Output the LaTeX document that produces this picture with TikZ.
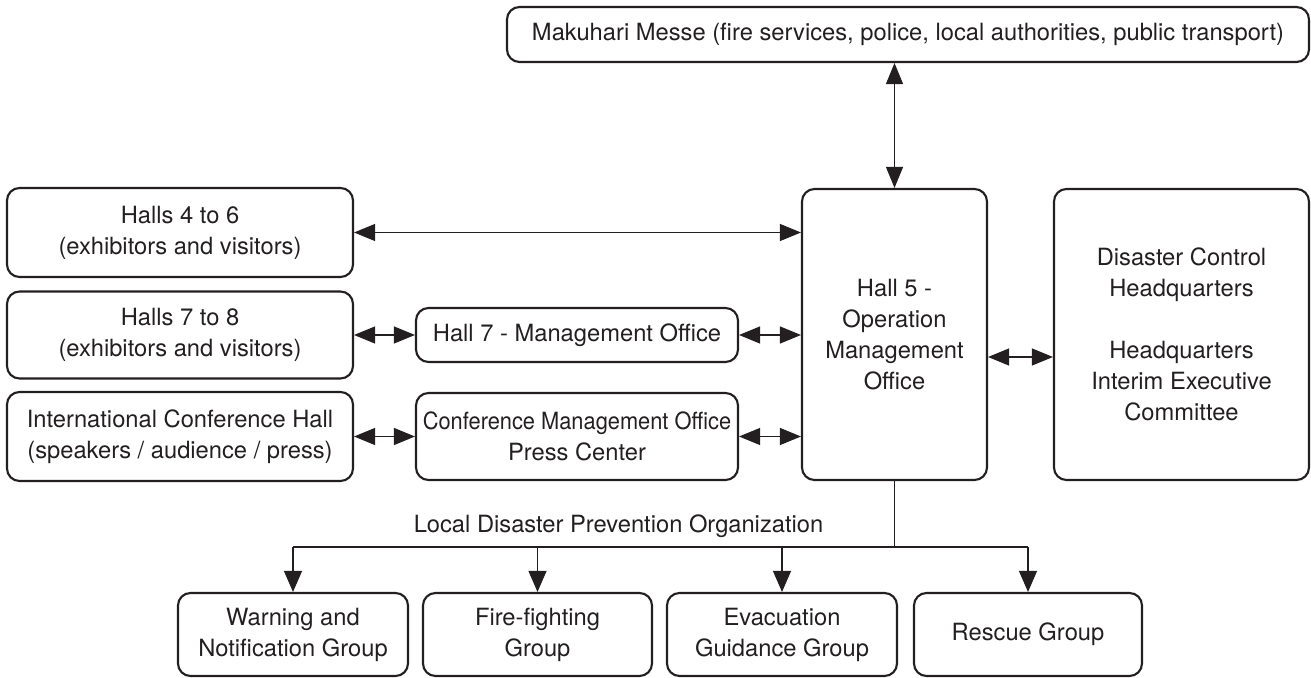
\documentclass[tikz,border=0pt]{standalone}
\usepackage{fontspec}
\setmainfont{TeX Gyre Heros}
\newfontfamily\narrowfont[FakeStretch=0.92]{TeX Gyre Heros}
\usepackage{tikz}
\usetikzlibrary{arrows.meta,positioning,calc}
\definecolor{ink}{RGB}{35,31,32}

\begin{document}
\begin{tikzpicture}[
					x = 0.02cm, y = -0.02cm,
					every node/.style = {font = \fontsize{13.5}{17.6}\selectfont, text = ink},
					unit/.style = {draw = ink, line width = 1.2pt, rounded corners = 0.25cm, align = center, inner sep = 0pt},
					boxdim/.style 2 args = {minimum width = #1*0.02cm, minimum height = #2*0.02cm},
					link/.style = {draw = ink, line width = 0.6pt},
					both/.style = {link, {Triangle[length=0.42cm,width=0.34cm]}-{Triangle[length=0.42cm,width=0.34cm]}},
					down/.style = {link, -{Triangle[length=0.42cm,width=0.36cm]}}
					]

					\useasboundingbox (0,0) rectangle (1311,678);

					% top row and the left column
					\node[unit, boxdim={802}{55}] (messe) at (908,34.5) {Makuhari Messe (fire services, police, local authorities, public transport)};
					\node[unit, boxdim={346}{89}] (halls46) at (180,232.5) {Halls 4 to 6\\(exhibitors and visitors)};
					\node[unit, boxdim={346}{87}] (halls78) at (180,335) {Halls 7 to 8\\(exhibitors and visitors)};
					\node[unit, boxdim={346}{89}] (ich) at (180,436.5) {International Conference Hall\\(speakers / audience / press)};

					\node[unit, boxdim={322}{54}] (hall7) at (577,335) {Hall 7 - Management Office};
					\node[unit, boxdim={322}{87}] (cmo) at (577,436.5) {{\narrowfont Conference Management Office}\\Press Center};

					\node[unit, boxdim={185}{291}] (hall5) at (894.5,334.5) {Hall 5 -\\Operation\\Management\\Office};
					\node[unit, boxdim={255}{291}] (hq) at (1181.5,334.5) {Disaster Control\\Headquarters\\[17.6pt]Headquarters\\Interim Executive\\Committee};

					% groups
					\node[unit, boxdim={230}{83}] (warn) at (293,634.5) {Warning and\\Notification Group};
					\node[unit, boxdim={229}{83}] (fire) at (537.5,634.5) {Fire-fighting\\Group};
					\node[unit, boxdim={230}{83}] (evac) at (782,634.5) {Evacuation\\Guidance Group};
					\node[unit, boxdim={228}{83}] (rescue) at (1028,634.5) {Rescue Group};

					\node[anchor=base] (org) at (618.5,532) {Local Disaster Prevention Organization};
					\coordinate (split) at (894.5,547);

					\draw[both] (hall5.north |- messe.south) -- (hall5.north);
					\draw[both] (halls46.east) -- (halls46.east -| hall5.west);
					\draw[both] (halls78.east) -- (hall7.west);
					\draw[both] (hall7.east) -- (hall7.east -| hall5.west);
					\draw[both] (ich.east) -- (cmo.west);
					\draw[both] (cmo.east) -- (cmo.east -| hall5.west);
					\draw[both] ([yshift=-0.45cm]hall5.east) -- ([yshift=-0.45cm]hq.west);

					\draw[link] (hall5.south) -- (split);
					\draw[link] (warn.north |- split) -- (rescue.north |- split);
					\foreach \g in {warn,fire,evac,rescue}
						\draw[down] (\g.north |- split) -- (\g.north);

				\end{tikzpicture}
\end{document}
